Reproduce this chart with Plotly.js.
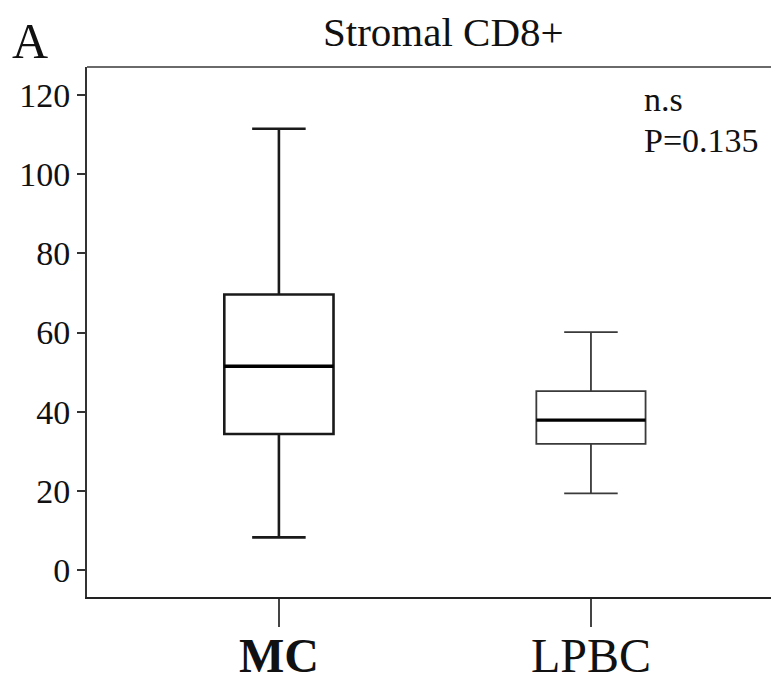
<!DOCTYPE html>
<html>
<head>
<meta charset="utf-8">
<script src="https://cdn.plot.ly/plotly-3.0.1.min.js"></script>
<style>
  html, body { margin: 0; padding: 0; background: #ffffff; overflow: hidden; }
  #chart { width: 771px; height: 681px; }
</style>
</head>
<body>
<div id="chart"></div>
<script>
// Stromal CD8+ counts, summarised per group as box statistics
const groups      = ['MC', 'LPBC'];
const tickLabels  = ['<b>MC</b>', 'LPBC'];
const lowerFence  = [8.3, 19.4];
const q1Values    = [34.4, 31.9];
const medianVals  = [51.5, 37.9];
const q3Values    = [69.6, 45.2];
const upperFence  = [111.4, 60.1];
const yTicks      = [0, 20, 40, 60, 80, 100, 120];
const pLabel      = 'P=0.135';
const sigLabel    = 'n.s';

const serif = '"Liberation Serif", "Times New Roman", serif';
const boxWidth = 0.35;
const lineStyles = [
  { color: '#1a1a1a', width: 2.6 },
  { color: '#3a3a3a', width: 1.8 }
];

const traces = [];
groups.forEach((g, i) => {
  traces.push({
    type: 'box',
    name: g,
    x: [i],
    q1: [q1Values[i]],
    median: [medianVals[i]],
    q3: [q3Values[i]],
    lowerfence: [lowerFence[i]],
    upperfence: [upperFence[i]],
    width: boxWidth,
    whiskerwidth: 0.49,
    fillcolor: 'rgba(255,255,255,0)',
    line: lineStyles[i],
    hoverinfo: 'skip',
    showlegend: false
  });
});
// heavier median bars drawn over each box
groups.forEach((g, i) => {
  traces.push({
    type: 'scatter',
    mode: 'lines',
    x: [i - boxWidth / 2, i + boxWidth / 2],
    y: [medianVals[i], medianVals[i]],
    line: { color: '#000000', width: 3.4 },
    hoverinfo: 'skip',
    showlegend: false
  });
});

// group names sit under the long category ticks
const groupLabels = groups.map((g, i) => ({
  text: tickLabels[i], xref: 'x', yref: 'paper', x: i, y: -0.111,
  xanchor: 'center', yanchor: 'middle', showarrow: false,
  font: { family: serif, size: 48, color: '#111111' }
}));

const layout = {
  width: 771,
  height: 681,
  margin: { l: 87, r: 0, t: 67, b: 84 },
  paper_bgcolor: '#ffffff',
  plot_bgcolor: '#ffffff',
  font: { family: serif, color: '#111111' },
  title: {
    text: 'Stromal CD8+',
    font: { family: serif, size: 41, color: '#111111' },
    xref: 'container', x: 0.575, xanchor: 'center',
    yref: 'container', y: 0.953, yanchor: 'middle'
  },
  xaxis: {
    range: [-0.615, 1.577],
    tickvals: [0, 1],
    showticklabels: false,
    ticks: 'outside',
    ticklen: 28,
    tickwidth: 2,
    tickcolor: '#444444',
    showline: true,
    linecolor: '#222222',
    linewidth: 2,
    showgrid: false,
    zeroline: false,
    fixedrange: true
  },
  yaxis: {
    range: [-6.74, 127.0],
    tickvals: yTicks,
    ticktext: yTicks.map(String),
    ticks: 'outside',
    ticklen: 8,
    tickwidth: 2,
    tickcolor: '#333333',
    tickfont: { family: serif, size: 34, color: '#111111' },
    showline: true,
    linecolor: '#333333',
    linewidth: 2,
    showgrid: false,
    zeroline: false,
    fixedrange: true
  },
  shapes: [
    { type: 'line', xref: 'paper', yref: 'paper', x0: 0, x1: 1, y0: 1, y1: 1,
      line: { color: '#6a6a6a', width: 2 } }
  ],
  annotations: groupLabels.concat([
    { text: 'A', xref: 'paper', yref: 'paper', x: -0.112, y: 1.049,
      xanchor: 'left', yanchor: 'middle', showarrow: false,
      font: { family: serif, size: 50, color: '#111111' } },
    { text: sigLabel, xref: 'paper', yref: 'paper', x: 0.811, y: 0.938,
      xanchor: 'left', yanchor: 'middle', showarrow: false,
      font: { family: serif, size: 34, color: '#111111' } },
    { text: pLabel, xref: 'paper', yref: 'paper', x: 0.811, y: 0.862,
      xanchor: 'left', yanchor: 'middle', showarrow: false,
      font: { family: serif, size: 34, color: '#111111' } }
  ])
};

Plotly.newPlot('chart', traces, layout, { displayModeBar: false, staticPlot: true });
</script>
</body>
</html>
